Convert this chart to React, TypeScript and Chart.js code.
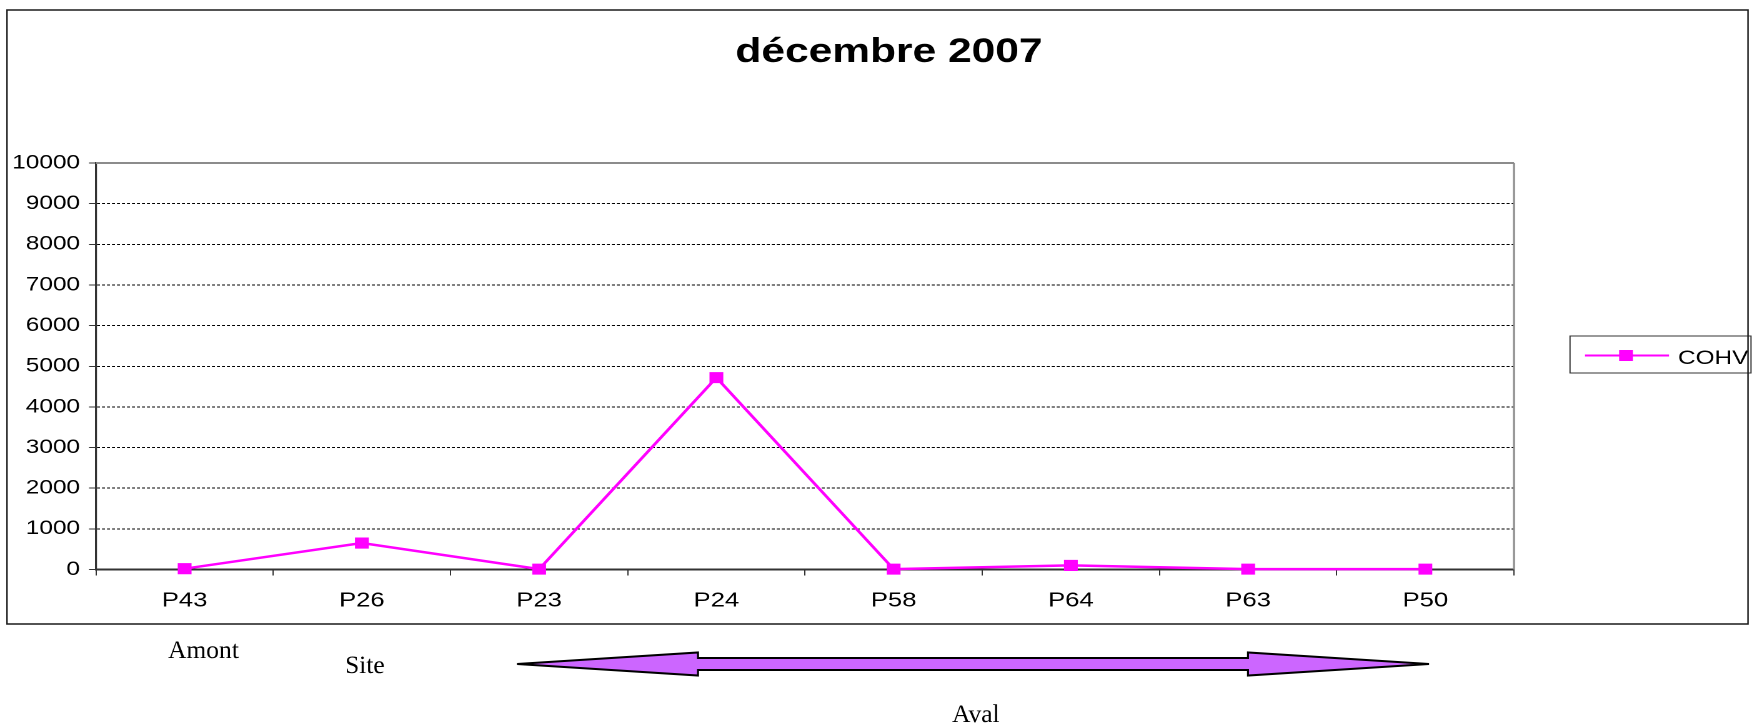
import React, { useEffect, useRef } from 'react';
import { Chart, registerables } from 'chart.js';

Chart.register(...registerables);

// ---------- data ----------
const chartTitle = 'décembre 2007';
const categories = ['P43', 'P26', 'P23', 'P24', 'P58', 'P64', 'P63', 'P50'];
const seriesName = 'COHV';
const cohvValues = [20, 650, 10, 4720, 10, 100, 10, 10];
const yTickValues = [0, 1000, 2000, 3000, 4000, 5000, 6000, 7000, 8000, 9000, 10000];
const annotationWords = ['Amont', 'Site', 'Aval'];

// ---------- layout ----------
const PAGE_W = 1752;
const PAGE_H = 725;
const LOGICAL_W = 1402; // chart image is stretched horizontally on the page
const SX = PAGE_W / LOGICAL_W;
const lx = (x: number) => x / SX;

const PLOT = { left: 96, right: 1514, top: 163, bottom: 569.5 }; // page px
const X_AXIS_H = 50;
const SANS = '"Liberation Sans", Arial, sans-serif';
const SERIF = '"Liberation Serif", "Times New Roman", serif';
const wordPos = [
  { x: 168, y: 658 },
  { x: 345, y: 673 },
  { x: 952, y: 722 },
];

const decorPlugin = {
  id: 'decor',
  beforeDraw(chart: any) {
    const ctx = chart.ctx;
    ctx.save();
    ctx.fillStyle = '#ffffff';
    ctx.fillRect(0, 0, chart.width, chart.height);
    ctx.restore();
  },
  afterDraw(chart: any) {
    const ctx: CanvasRenderingContext2D = chart.ctx;
    const { left, top, right, bottom } = chart.chartArea;

    ctx.save();
    // plot-area border (top & right)
    ctx.strokeStyle = '#8c8c8c';
    ctx.lineWidth = 2;
    ctx.beginPath();
    ctx.moveTo(left, top);
    ctx.lineTo(right, top);
    ctx.stroke();
    ctx.lineWidth = 1.6;
    ctx.beginPath();
    ctx.moveTo(right, top);
    ctx.lineTo(right, bottom);
    ctx.stroke();

    // title
    ctx.fillStyle = '#000';
    ctx.font = `bold 34px ${SANS}`;
    ctx.textAlign = 'center';
    ctx.textBaseline = 'alphabetic';
    ctx.fillText(chartTitle, lx(889), 62);

    // legend
    const ds = chart.data.datasets[0];
    ctx.strokeStyle = '#333';
    ctx.lineWidth = 1;
    ctx.strokeRect(lx(1570), 336, lx(1751) - lx(1570), 37);
    ctx.strokeStyle = ds.borderColor;
    ctx.lineWidth = 2;
    ctx.beginPath();
    ctx.moveTo(lx(1585), 355.5);
    ctx.lineTo(lx(1669), 355.5);
    ctx.stroke();
    ctx.fillStyle = ds.pointBackgroundColor;
    ctx.fillRect(lx(1626) - 5.5, 350, 11, 11);
    ctx.fillStyle = '#000';
    ctx.font = `19.5px ${SANS}`;
    ctx.textAlign = 'left';
    ctx.fillText(ds.label, lx(1678), 364);
    ctx.restore();

    // page-space drawings (not stretched)
    ctx.save();
    ctx.scale(1 / SX, 1);
    // outer frame
    ctx.strokeStyle = '#1a1a1a';
    ctx.lineWidth = 1.5;
    ctx.strokeRect(7, 10, 1741, 614);

    // double arrow
    const cy = 664;
    const xl = 517, hl = 698, hr = 1248, xr = 1429;
    const hh = 11.5, sh = 6;
    ctx.beginPath();
    ctx.moveTo(xl, cy);
    ctx.lineTo(hl, cy - hh);
    ctx.lineTo(hl, cy - sh);
    ctx.lineTo(hr, cy - sh);
    ctx.lineTo(hr, cy - hh);
    ctx.lineTo(xr, cy);
    ctx.lineTo(hr, cy + hh);
    ctx.lineTo(hr, cy + sh);
    ctx.lineTo(hl, cy + sh);
    ctx.lineTo(hl, cy + hh);
    ctx.closePath();
    ctx.fillStyle = '#CC66FF';
    ctx.fill();
    ctx.strokeStyle = '#000';
    ctx.lineWidth = 2;
    ctx.lineJoin = 'miter';
    ctx.stroke();

    // words
    ctx.fillStyle = '#000';
    ctx.font = `25.5px ${SERIF}`;
    ctx.textAlign = 'left';
    ctx.textBaseline = 'alphabetic';
    annotationWords.forEach((w, i) => ctx.fillText(w, wordPos[i].x, wordPos[i].y));
    ctx.restore();
  },
};

export default function App() {
  const ref = useRef<HTMLCanvasElement>(null);

  useEffect(() => {
    if (!ref.current) return;
    const chart = new Chart(ref.current, {
      type: 'line',
      data: {
        labels: categories,
        datasets: [
          {
            label: seriesName,
            data: cohvValues,
            borderColor: '#FF00FF',
            backgroundColor: '#FF00FF',
            borderWidth: 2.5,
            pointStyle: 'rect',
            pointRadius: 7.1,
            pointBorderWidth: 1,
            pointBackgroundColor: '#FF00FF',
            pointBorderColor: '#FF00FF',
            tension: 0,
            fill: false,
            clip: false,
          } as any,
        ],
      },
      options: {
        responsive: false,
        animation: false,
        devicePixelRatio: 2,
        events: [],
        layout: {
          padding: {
            left: 0,
            right: LOGICAL_W - lx(PLOT.right),
            top: PLOT.top,
            bottom: PAGE_H - PLOT.bottom - X_AXIS_H,
          },
        },
        plugins: {
          legend: { display: false },
          title: { display: false },
          tooltip: { enabled: false },
        },
        scales: {
          x: {
            type: 'category',
            offset: true,
            grid: {
              display: true,
              offset: true,
              drawOnChartArea: false,
              drawTicks: true,
              tickLength: 6,
              tickColor: '#333',
              tickWidth: 1,
            },
            border: { display: true, color: '#333', width: 2 },
            ticks: {
              color: '#000',
              font: { family: SANS, size: 20.5 },
              padding: 13,
              maxRotation: 0,
              minRotation: 0,
              autoSkip: false,
            },
            afterFit: (s: any) => {
              s.height = X_AXIS_H;
            },
          },
          y: {
            min: 0,
            max: 10000,
            afterBuildTicks: (s: any) => {
              s.ticks = yTickValues.map((v) => ({ value: v }));
            },
            grid: {
              color: '#000',
              lineWidth: 1,
              drawTicks: true,
              tickLength: lx(7),
              tickColor: '#333',
              tickWidth: 1,
            },
            border: { display: true, color: '#333', width: 1.6, dash: [2.4, 1.6] },
            ticks: {
              color: '#000',
              font: { family: SANS, size: 19.5 },
              padding: lx(PLOT.left) - lx(7) - lx(80),
              callback: (v: any) => String(v),
            },
            afterFit: (s: any) => {
              s.width = lx(PLOT.left);
            },
          },
        },
      } as any,
      plugins: [decorPlugin],
    });
    return () => chart.destroy();
  }, []);

  return (
    <div style={{ position: 'absolute', left: 0, top: 0, width: PAGE_W, height: PAGE_H, background: '#fff', overflow: 'hidden' }}>
      <canvas
        ref={ref}
        width={LOGICAL_W}
        height={PAGE_H}
        style={{ width: `${PAGE_W}px`, height: `${PAGE_H}px`, display: 'block' }}
      />
    </div>
  );
}
